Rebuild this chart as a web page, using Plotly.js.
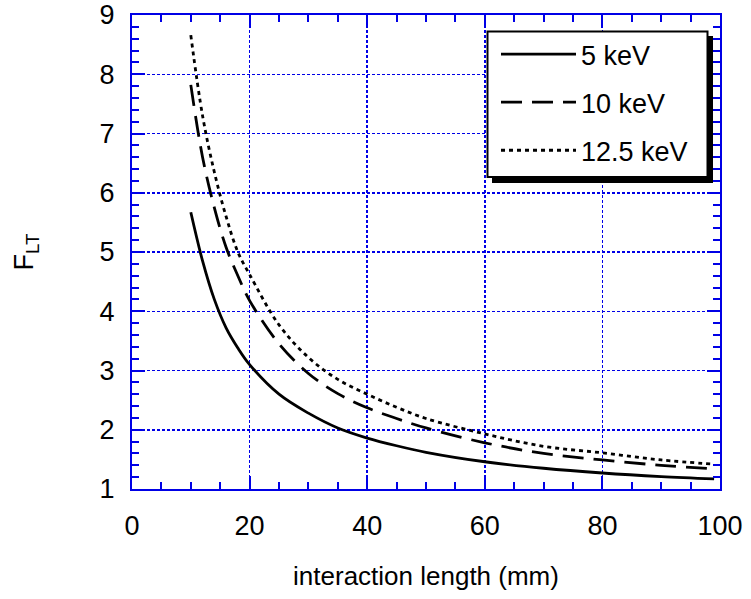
<!DOCTYPE html>
<html>
<head>
<meta charset="utf-8">
<script src="https://cdn.plot.ly/plotly-3.0.1.min.js"></script>
<style>html,body{margin:0;padding:0;background:#fff;}#chart{width:751px;height:599px;}</style>
</head>
<body>
<div id="chart"></div>
<script>
// interaction length (mm)
const xLen = [10, 12, 14, 16, 18, 20, 25, 30, 35, 40, 45, 50, 60, 70, 80, 90, 99];
// F_LT for each energy
const f5 = [5.67, 4.85, 4.20, 3.72, 3.38, 3.10, 2.60, 2.28, 2.03, 1.86, 1.73, 1.62, 1.46, 1.35, 1.27, 1.21, 1.17];
const f10 = [7.82, 6.60, 5.75, 5.08, 4.60, 4.18, 3.45, 2.95, 2.61, 2.37, 2.19, 2.03, 1.78, 1.60, 1.49, 1.40, 1.34];
const f125 = [8.66, 7.30, 6.35, 5.60, 5.00, 4.62, 3.77, 3.22, 2.85, 2.60, 2.38, 2.19, 1.93, 1.72, 1.61, 1.49, 1.42];
const seriesNames = ["5 keV", "10 keV", "12.5 keV"];

const blue = "#0000e6";
const font = "Liberation Sans, Arial, Helvetica, sans-serif";

const traces = [
  {x: xLen, y: f5, name: seriesNames[0], mode: "lines", line: {color: "black", width: 2.8, shape: "spline", dash: "solid"}, legendgroup: "a"},
  {x: xLen, y: f10, name: seriesNames[1], mode: "lines", line: {color: "black", width: 2.8, shape: "spline", dash: "21px,10px"}, legendgroup: "b"},
  {x: xLen, y: f125, name: seriesNames[2], mode: "lines", line: {color: "black", width: 2.8, shape: "spline", dash: "4px,4px"}, legendgroup: "c"}
];

const L = 132, R = 31, T = 15, B = 110;
const W = 751 - L - R, H = 599 - T - B;
function px(x){ return (x - L) / W; }
function py(y){ return (599 - B - y) / H; }

const axisCommon = {
  showline: true, linecolor: blue, linewidth: 2, mirror: "allticks",
  ticks: "inside", ticklen: 13, tickwidth: 2, tickcolor: blue,
  showgrid: true, gridcolor: blue, gridwidth: 1.5, griddash: "3px,2px",
  zeroline: false,
  tickfont: {family: font, size: 27, color: "black"}
};

const layout = {
  width: 751, height: 599,
  margin: {l: L, r: R, t: T, b: B},
  paper_bgcolor: "white", plot_bgcolor: "white",
  showlegend: true,
  xaxis: Object.assign({}, axisCommon, {
    range: [0, 100], dtick: 20, tick0: 0, ticklabelstandoff: 12,
    minor: {dtick: 5, ticks: "inside", ticklen: 7, tickwidth: 2, tickcolor: blue, showgrid: false},
    title: {text: "interaction length (mm)", font: {family: font, size: 26, color: "black"}, standoff: 26}
  }),
  yaxis: Object.assign({}, axisCommon, {
    range: [1, 9], dtick: 1, tick0: 1, ticklabelstandoff: 10,
    minor: {dtick: 0.2, ticks: "inside", ticklen: 7, tickwidth: 2, tickcolor: blue, showgrid: false},
    title: {text: "F<sub>LT</sub>", font: {family: font, size: 27, color: "black"}, standoff: 58}
  }),
  legend: {
    x: px(496), y: py(30), xanchor: "left", yanchor: "top",
    bgcolor: "rgba(0,0,0,0)", bordercolor: "black", borderwidth: 0,
    font: {family: font, size: 27, color: "black"},
    itemwidth: 75, tracegroupgap: 10, traceorder: "grouped"
  },
  shapes: [
    {type: "rect", xref: "paper", yref: "paper", x0: px(492), x1: px(713), y0: py(183), y1: py(36),
     fillcolor: "black", line: {width: 0}, layer: "above"},
    {type: "rect", xref: "paper", yref: "paper", x0: px(487.5), x1: px(707.5), y0: py(177), y1: py(31.5),
     fillcolor: "white", line: {width: 2, color: "black"}, layer: "above"}
  ]
};

Plotly.newPlot("chart", traces, layout, {displayModeBar: false, staticPlot: true});
</script>
</body>
</html>
